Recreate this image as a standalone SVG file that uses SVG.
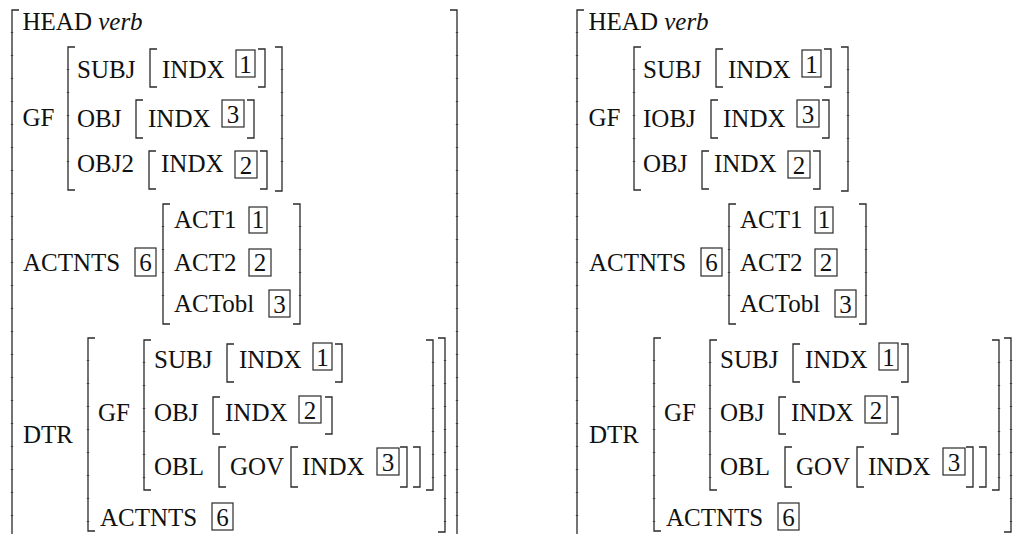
<svg xmlns="http://www.w3.org/2000/svg" width="1015" height="534" viewBox="0 0 1015 534">
  <style>
    text { font-family: "Liberation Serif", "Times New Roman", serif; font-size: 25px; fill: #111; }
    .it { font-style: italic; }
    .br { fill: none; stroke: #2a2a2a; stroke-width: 1.3; }
    /* joints of the extensible delimiter pieces along tall brackets */
    .tk { fill: none; stroke: #2a2a2a; stroke-width: 2.4; stroke-dasharray: 0 22 1 0; opacity: 0.75; }
    .tag { fill: none; stroke: #2a2a2a; stroke-width: 1.2; }
    .d { text-anchor: middle; }
  </style>

  <!-- structure 1: SUBJ / OBJ / OBJ2 -->
  <g id="avm-left">
    <g id="l-outer">
      <path class="br" d="M19,10 H12 V534"/>
      <path class="tk" d="M12,10 V534"/>
      <path class="br" d="M450,10 H457 V534"/>
      <path class="tk" d="M457,10 V534"/>
    </g>
    <g id="l-head">
      <text x="22.5" y="30">HEAD <tspan class="it">verb</tspan></text>
    </g>
    <g id="l-gf">
      <text x="22.5" y="126">GF</text>
      <path class="br" d="M75,47 H68 V190 H75"/>
      <path class="tk" d="M68,47 V180"/>
      <path class="br" d="M275,47 H282 V191 H275"/>
      <path class="tk" d="M282,47 V180"/>
      <text x="77" y="78">SUBJ</text>
      <path class="br" d="M157,49 H150 V87 H157"/>
      <text x="162" y="78">INDX</text>
      <rect class="tag" x="236" y="50" width="19" height="27"/>
      <text class="d" x="245.5" y="73">1</text>
      <path class="br" d="M258,49 H265 V87 H258"/>
      <text x="77" y="127">OBJ</text>
      <path class="br" d="M143,100 H136 V138 H143"/>
      <text x="148" y="127">INDX</text>
      <rect class="tag" x="222" y="100" width="22" height="27"/>
      <text class="d" x="233" y="123">3</text>
      <path class="br" d="M247,100 H254 V138 H247"/>
      <text x="77" y="172">OBJ2</text>
      <path class="br" d="M156,151 H149 V189 H156"/>
      <text x="161" y="172">INDX</text>
      <rect class="tag" x="235" y="151" width="22" height="27"/>
      <text class="d" x="246" y="174">2</text>
      <path class="br" d="M260,151 H267 V189 H260"/>
    </g>
    <g id="l-act">
      <text x="23" y="271">ACTNTS</text>
      <rect class="tag" x="135" y="248" width="21" height="28"/>
      <text class="d" x="145.5" y="271">6</text>
      <path class="br" d="M170,204 H163 V324 H170"/>
      <path class="tk" d="M163,204 V314"/>
      <path class="br" d="M293,204 H300 V324 H293"/>
      <path class="tk" d="M300,204 V314"/>
      <text x="174" y="228">ACT1</text>
      <rect class="tag" x="249" y="207" width="18" height="26"/>
      <text class="d" x="258" y="228">1</text>
      <text x="174" y="271">ACT2</text>
      <rect class="tag" x="249" y="249" width="22" height="27"/>
      <text class="d" x="260" y="271">2</text>
      <text x="174" y="312">ACTobl</text>
      <rect class="tag" x="269" y="290" width="21" height="27"/>
      <text class="d" x="279.5" y="313">3</text>
    </g>
    <g id="l-dtr">
      <text x="23" y="443">DTR</text>
      <path class="br" d="M95,338 H88 V531 H95"/>
      <path class="tk" d="M88,338 V522"/>
      <path class="br" d="M438,338 H445 V532 H438"/>
      <path class="tk" d="M445,338 V522"/>
      <text x="98" y="421">GF</text>
      <path class="br" d="M151,340 H144 V490 H151"/>
      <path class="tk" d="M144,340 V480"/>
      <path class="br" d="M426,340 H433 V490 H426"/>
      <path class="tk" d="M433,340 V480"/>
      <text x="154" y="368">SUBJ</text>
      <path class="br" d="M234,344 H227 V382 H234"/>
      <text x="239" y="368">INDX</text>
      <rect class="tag" x="313" y="343" width="19" height="27"/>
      <text class="d" x="322.5" y="366">1</text>
      <path class="br" d="M335,344 H342 V382 H335"/>
      <text x="154" y="421">OBJ</text>
      <path class="br" d="M220,397 H213 V434 H220"/>
      <text x="225" y="421">INDX</text>
      <rect class="tag" x="299" y="396" width="22" height="27"/>
      <text class="d" x="310" y="419">2</text>
      <path class="br" d="M325,397 H332 V434 H325"/>
      <text x="154" y="475">OBL</text>
      <path class="br" d="M226,447 H219 V487 H226"/>
      <text x="230" y="475">GOV</text>
      <path class="br" d="M298,447 H291 V487 H298"/>
      <text x="302" y="475">INDX</text>
      <rect class="tag" x="377" y="448" width="22" height="27"/>
      <text class="d" x="388" y="471">3</text>
      <path class="br" d="M400,447 H407 V487 H400"/>
      <path class="br" d="M413,447 H420 V487 H413"/>
      <text x="100" y="526">ACTNTS</text>
      <rect class="tag" x="212" y="503" width="21" height="27"/>
      <text class="d" x="222.5" y="526">6</text>
    </g>
  </g>

  <!-- structure 2: SUBJ / IOBJ / OBJ -->
  <g id="avm-right" transform="translate(566,0)">
    <g id="r-outer">
      <path class="br" d="M18,10 H11 V534"/>
      <path class="tk" d="M11,10 V534"/>
    </g>
    <g id="r-head">
      <text x="22.5" y="30">HEAD <tspan class="it">verb</tspan></text>
    </g>
    <g id="r-gf">
      <text x="22.5" y="126">GF</text>
      <path class="br" d="M75,47 H68 V190 H75"/>
      <path class="tk" d="M68,47 V180"/>
      <path class="br" d="M275,47 H282 V191 H275"/>
      <path class="tk" d="M282,47 V180"/>
      <text x="77" y="78">SUBJ</text>
      <path class="br" d="M157,49 H150 V87 H157"/>
      <text x="162" y="78">INDX</text>
      <rect class="tag" x="236" y="50" width="19" height="27"/>
      <text class="d" x="245.5" y="73">1</text>
      <path class="br" d="M258,49 H265 V87 H258"/>
      <text x="77" y="127">IOBJ</text>
      <path class="br" d="M152,100 H145 V138 H152"/>
      <text x="157" y="127">INDX</text>
      <rect class="tag" x="231" y="100" width="22" height="27"/>
      <text class="d" x="242" y="123">3</text>
      <path class="br" d="M256,100 H263 V138 H256"/>
      <text x="77" y="172">OBJ</text>
      <path class="br" d="M143,151 H136 V189 H143"/>
      <text x="148" y="172">INDX</text>
      <rect class="tag" x="222" y="151" width="22" height="27"/>
      <text class="d" x="233" y="174">2</text>
      <path class="br" d="M247,151 H254 V189 H247"/>
    </g>
    <g id="r-act">
      <text x="23" y="271">ACTNTS</text>
      <rect class="tag" x="135" y="248" width="21" height="28"/>
      <text class="d" x="145.5" y="271">6</text>
      <path class="br" d="M170,204 H163 V324 H170"/>
      <path class="tk" d="M163,204 V314"/>
      <path class="br" d="M293,204 H300 V324 H293"/>
      <path class="tk" d="M300,204 V314"/>
      <text x="174" y="228">ACT1</text>
      <rect class="tag" x="249" y="207" width="18" height="26"/>
      <text class="d" x="258" y="228">1</text>
      <text x="174" y="271">ACT2</text>
      <rect class="tag" x="249" y="249" width="22" height="27"/>
      <text class="d" x="260" y="271">2</text>
      <text x="174" y="312">ACTobl</text>
      <rect class="tag" x="269" y="290" width="21" height="27"/>
      <text class="d" x="279.5" y="313">3</text>
    </g>
    <g id="r-dtr">
      <text x="23" y="443">DTR</text>
      <path class="br" d="M95,338 H88 V531 H95"/>
      <path class="tk" d="M88,338 V522"/>
      <path class="br" d="M438,338 H445 V532 H438"/>
      <path class="tk" d="M445,338 V522"/>
      <text x="98" y="421">GF</text>
      <path class="br" d="M151,340 H144 V490 H151"/>
      <path class="tk" d="M144,340 V480"/>
      <path class="br" d="M426,340 H433 V490 H426"/>
      <path class="tk" d="M433,340 V480"/>
      <text x="154" y="368">SUBJ</text>
      <path class="br" d="M234,344 H227 V382 H234"/>
      <text x="239" y="368">INDX</text>
      <rect class="tag" x="313" y="343" width="19" height="27"/>
      <text class="d" x="322.5" y="366">1</text>
      <path class="br" d="M335,344 H342 V382 H335"/>
      <text x="154" y="421">OBJ</text>
      <path class="br" d="M220,397 H213 V434 H220"/>
      <text x="225" y="421">INDX</text>
      <rect class="tag" x="299" y="396" width="22" height="27"/>
      <text class="d" x="310" y="419">2</text>
      <path class="br" d="M325,397 H332 V434 H325"/>
      <text x="154" y="475">OBL</text>
      <path class="br" d="M226,447 H219 V487 H226"/>
      <text x="230" y="475">GOV</text>
      <path class="br" d="M298,447 H291 V487 H298"/>
      <text x="302" y="475">INDX</text>
      <rect class="tag" x="377" y="448" width="22" height="27"/>
      <text class="d" x="388" y="471">3</text>
      <path class="br" d="M400,447 H407 V487 H400"/>
      <path class="br" d="M413,447 H420 V487 H413"/>
      <text x="100" y="526">ACTNTS</text>
      <rect class="tag" x="212" y="503" width="21" height="27"/>
      <text class="d" x="222.5" y="526">6</text>
    </g>
  </g>
</svg>
